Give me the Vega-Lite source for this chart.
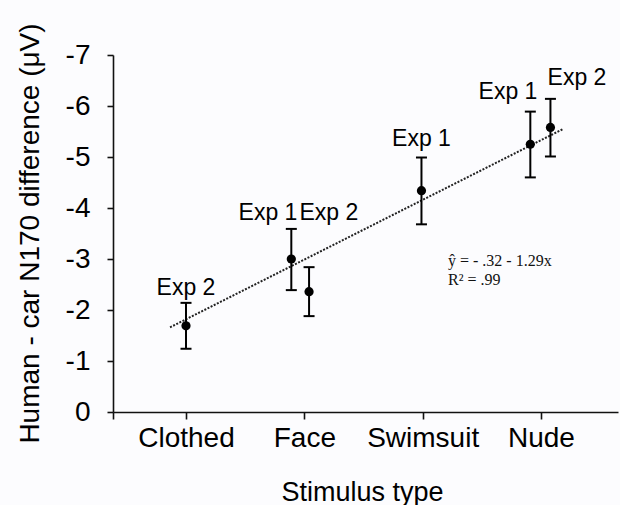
{
  "$schema": "https://vega.github.io/schema/vega-lite/v6.json",
  "width": 505,
  "height": 357,
  "autosize": "none",
  "padding": {"left": 113, "top": 55, "right": 2, "bottom": 93},
  "background": "#fcfcfe",
  "config": {"view": {"stroke": null}, "font": "Liberation Sans"},
  "datasets": {
    "points": [
      {"stimulus": "Clothed", "exp": "Exp 2", "pos": 1.0, "mean": -1.69, "lower": -1.24, "upper": -2.14, "labelPos": 1.0, "labelVal": -2.29},
      {"stimulus": "Face", "exp": "Exp 1", "pos": 1.89, "mean": -3.0, "lower": -2.39, "upper": -3.59, "labelPos": 1.693, "labelVal": -3.76},
      {"stimulus": "Face", "exp": "Exp 2", "pos": 2.04, "mean": -2.36, "lower": -1.88, "upper": -2.84, "labelPos": 2.208, "labelVal": -3.76},
      {"stimulus": "Swimsuit", "exp": "Exp 1", "pos": 2.99, "mean": -4.34, "lower": -3.68, "upper": -4.99, "labelPos": 2.99, "labelVal": -5.22},
      {"stimulus": "Nude", "exp": "Exp 1", "pos": 3.91, "mean": -5.25, "lower": -4.6, "upper": -5.89, "labelPos": 3.721, "labelVal": -6.14},
      {"stimulus": "Nude", "exp": "Exp 2", "pos": 4.08, "mean": -5.58, "lower": -5.01, "upper": -6.14, "labelPos": 4.304, "labelVal": -6.41}
    ],
    "fit": [
      {"pos": 0.865, "value": -1.66},
      {"pos": 4.188, "value": -5.55}
    ],
    "equation": [
      {"pos": 3.214, "value": -2.86, "text": "ŷ = - .32 - 1.29x"},
      {"pos": 3.214, "value": -2.49, "text": "R² = .99"}
    ]
  },
  "layer": [
    {
      "data": {"name": "fit"},
      "mark": {"type": "line", "strokeDash": [2, 1.5], "strokeWidth": 2, "color": "#222"},
      "encoding": {
        "x": {
          "field": "pos", "type": "quantitative", "title": "Stimulus type",
          "scale": {"domain": [0.383, 4.651], "nice": false, "zero": false},
          "axis": {
            "values": [0.383, 1, 2, 3, 4],
            "labelExpr": "datum.value == 1 ? 'Clothed' : datum.value == 2 ? 'Face' : datum.value == 3 ? 'Swimsuit' : datum.value == 4 ? 'Nude' : ''",
            "grid": false, "tickSize": 7, "labelPadding": 5, "labelFontSize": 28, "labelColor": "#000",
            "labelFlush": false, "labelOverlap": false,
            "titleFontSize": 27, "titleFontWeight": "normal", "titleColor": "#000",
            "titleX": 249, "titleY": 88, "titleBaseline": "alphabetic", "titleAlign": "center",
            "domainColor": "#111", "domainWidth": 1.6, "tickColor": "#111", "tickWidth": 1.6
          }
        },
        "y": {
          "field": "value", "type": "quantitative", "title": "Human - car N170 difference (μV)",
          "scale": {"domain": [-7, 0], "reverse": true, "nice": false, "zero": false},
          "axis": {
            "values": [-7, -6, -5, -4, -3, -2, -1, 0],
            "labelExpr": "'' + datum.value",
            "grid": false, "tickSize": 6, "labelPadding": 17, "labelFontSize": 28, "labelColor": "#000",
            "labelFlush": false, "labelOverlap": false,
            "titleFontSize": 28, "titleFontWeight": "normal", "titleColor": "#000",
            "titleX": -75, "titleY": 178, "titleAngle": -90, "titleBaseline": "alphabetic", "titleAlign": "center",
            "domainColor": "#111", "domainWidth": 1.6, "tickColor": "#111", "tickWidth": 1.6
          }
        }
      }
    },
    {
      "data": {"name": "points"},
      "mark": {"type": "rule", "strokeWidth": 2, "color": "#000"},
      "encoding": {
        "x": {"field": "pos", "type": "quantitative", "title": "Stimulus type"},
        "y": {"field": "lower", "type": "quantitative", "title": "Human - car N170 difference (μV)"},
        "y2": {"field": "upper"}
      }
    },
    {
      "data": {"name": "points"},
      "mark": {"type": "tick", "orient": "horizontal", "size": 11, "thickness": 2, "color": "#000", "opacity": 1},
      "encoding": {
        "x": {"field": "pos", "type": "quantitative", "title": "Stimulus type"},
        "y": {"field": "lower", "type": "quantitative", "title": "Human - car N170 difference (μV)"}
      }
    },
    {
      "data": {"name": "points"},
      "mark": {"type": "tick", "orient": "horizontal", "size": 11, "thickness": 2, "color": "#000", "opacity": 1},
      "encoding": {
        "x": {"field": "pos", "type": "quantitative", "title": "Stimulus type"},
        "y": {"field": "upper", "type": "quantitative", "title": "Human - car N170 difference (μV)"}
      }
    },
    {
      "data": {"name": "points"},
      "mark": {"type": "point", "filled": true, "size": 85, "color": "#000", "opacity": 1},
      "encoding": {
        "x": {"field": "pos", "type": "quantitative", "title": "Stimulus type"},
        "y": {"field": "mean", "type": "quantitative", "title": "Human - car N170 difference (μV)"}
      }
    },
    {
      "data": {"name": "points"},
      "mark": {"type": "text", "fontSize": 23, "baseline": "alphabetic", "align": "center", "color": "#000"},
      "encoding": {
        "x": {"field": "labelPos", "type": "quantitative", "title": "Stimulus type"},
        "y": {"field": "labelVal", "type": "quantitative", "title": "Human - car N170 difference (μV)"},
        "text": {"field": "exp"}
      }
    },
    {
      "data": {"name": "equation"},
      "mark": {"type": "text", "font": "Liberation Serif", "fontSize": 16, "baseline": "alphabetic", "align": "left", "color": "#111"},
      "encoding": {
        "x": {"field": "pos", "type": "quantitative", "title": "Stimulus type"},
        "y": {"field": "value", "type": "quantitative", "title": "Human - car N170 difference (μV)"},
        "text": {"field": "text"}
      }
    }
  ]
}
